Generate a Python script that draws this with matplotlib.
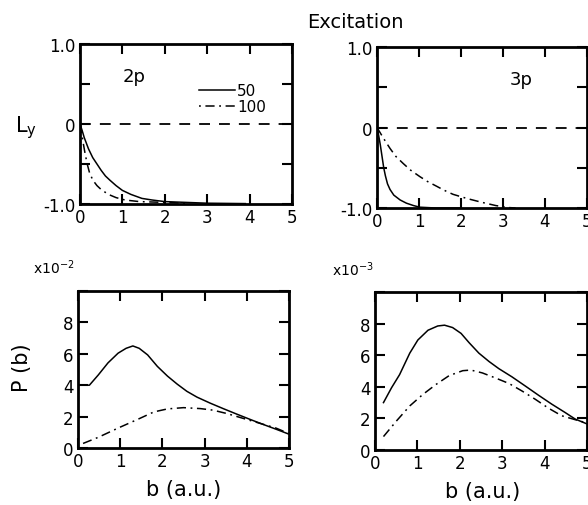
import matplotlib
matplotlib.use("Agg")
import matplotlib.pyplot as plt

plt.rcParams['font.family'] = ['DejaVu Sans']
plt.rcParams['mathtext.fontset'] = 'dejavusans'

# ---- data: L_y (top panels) ----
b2p_ly_50 = [0.0, 0.05, 0.1, 0.2, 0.3, 0.4, 0.5, 0.6, 0.7, 0.85, 1.0, 1.2, 1.46, 1.7, 2.0, 2.5, 3.0, 3.9]
ly2p_50 = [0.0, -0.08, -0.17, -0.31, -0.42, -0.5, -0.58, -0.65, -0.7, -0.77, -0.83, -0.88, -0.93, -0.95, -0.97, -0.98, -0.99, -0.995]
b2p_ly_100 = [0.0, 0.04, 0.08, 0.12, 0.17, 0.22, 0.3, 0.4, 0.5, 0.67, 0.85, 1.06, 1.4, 2.0, 2.5]
ly2p_100 = [0.0, -0.12, -0.25, -0.37, -0.5, -0.6, -0.7, -0.77, -0.82, -0.88, -0.92, -0.95, -0.97, -0.98, -0.99]

b3p_ly_50 = [0.0, 0.04, 0.08, 0.12, 0.16, 0.2, 0.25, 0.31, 0.4, 0.55, 0.7, 0.87, 1.02, 1.4, 2.0]
ly3p_50 = [0.0, -0.1, -0.22, -0.36, -0.5, -0.6, -0.7, -0.77, -0.84, -0.9, -0.94, -0.97, -0.99, -1.0, -1.0]
b3p_ly_100 = [0.0, 0.15, 0.31, 0.45, 0.63, 0.8, 1.02, 1.2, 1.42, 1.6, 1.81, 2.0, 2.2, 2.5, 2.83, 3.15, 3.3]
ly3p_100 = [0.0, -0.13, -0.26, -0.36, -0.45, -0.53, -0.61, -0.67, -0.73, -0.78, -0.83, -0.86, -0.89, -0.93, -0.97, -0.995, -1.0]

# ---- data: P(b) (bottom panels) ----
b2p_p_50 = [0.0, 0.27, 0.48, 0.71, 0.95, 1.14, 1.3, 1.45, 1.65, 1.88, 2.12, 2.35, 2.58, 2.82,
            3.13, 3.44, 3.76, 4.07, 4.38, 4.69, 5.0]
p2p_50 = [4.0, 4.0, 4.65, 5.42, 6.04, 6.35, 6.5, 6.35, 5.93, 5.2, 4.58, 4.07, 3.61, 3.24,
          2.86, 2.51, 2.16, 1.83, 1.51, 1.2, 0.88]
b2p_p_100 = [0.12, 0.48, 0.95, 1.42, 1.8, 2.12, 2.5, 2.9, 3.2, 3.52, 3.91, 4.3, 4.69, 5.0]
p2p_100 = [0.29, 0.68, 1.27, 1.83, 2.3, 2.49, 2.57, 2.51, 2.41, 2.2, 1.89, 1.58, 1.27, 0.92]

b3p_p_50 = [0.2, 0.39, 0.58, 0.82, 1.01, 1.25, 1.48, 1.64, 1.83, 2.03, 2.22, 2.45, 2.69, 2.92,
            3.23, 3.55, 3.86, 4.17, 4.48, 4.72, 5.0]
p3p_50 = [3.0, 3.94, 4.77, 6.13, 6.96, 7.58, 7.85, 7.9, 7.75, 7.38, 6.79, 6.13, 5.6, 5.15,
          4.63, 4.04, 3.46, 2.9, 2.38, 1.96, 1.65]
b3p_p_100 = [0.2, 0.51, 0.82, 1.13, 1.44, 1.75, 2.07, 2.26, 2.53, 2.84, 3.16, 3.47, 3.78, 4.09,
             4.4, 4.72, 5.0]
p3p_100 = [0.85, 1.85, 2.79, 3.52, 4.15, 4.71, 5.02, 5.06, 4.88, 4.56, 4.21, 3.73, 3.21, 2.65,
           2.17, 1.92, 1.71]

xticks = [0, 1, 2, 3, 4, 5]
xticklabels = ["0", "1", "2", "3", "4", "5"]
ly_ticks = [-1.0, -0.5, 0.0, 0.5, 1.0]
ly_ticklabels = ["-1.0", "", "0", "", "1.0"]
p_ticks = [0, 2, 4, 6, 8, 10]
p_ticklabels = ["0", "2", "4", "6", "8", ""]

W, H = 588, 506
fig = plt.figure(figsize=(W / 100, H / 100), dpi=100)


def rect(l, r, t, b):
    return [l / W, 1 - b / H, (r - l) / W, (b - t) / H]


ax_tl = fig.add_axes(rect(80, 292, 45, 205))
ax_tr = fig.add_axes(rect(377, 587, 48, 209))
ax_bl = fig.add_axes(rect(78, 289, 292, 449))
ax_br = fig.add_axes(rect(375, 587, 293, 451))

dashdot = (0, (6, 3, 1.2, 3))
lw = 1.1

for ax in (ax_tl, ax_tr, ax_bl, ax_br):
    for s in ax.spines.values():
        s.set_linewidth(2.0)
    ax.set_xlim(0, 5)
    ax.set_xticks(xticks)
    ax.set_xticklabels(xticklabels)
    ax.tick_params(direction='in', top=True, right=True, length=7, width=1.5,
                   labelsize=12, pad=3)

for ax in (ax_tl, ax_tr):
    ax.set_ylim(-1, 1)
    ax.set_yticks(ly_ticks)
    ax.set_yticklabels(ly_ticklabels)
    ax.axhline(0, color='black', lw=1.3, linestyle=(0, (6, 5)))

for ax in (ax_bl, ax_br):
    ax.set_ylim(0, 10)
    ax.set_yticks(p_ticks)
    ax.set_yticklabels(p_ticklabels)

ax_tl.plot(b2p_ly_50, ly2p_50, color='black', lw=lw)
ax_tl.plot(b2p_ly_100, ly2p_100, color='black', lw=lw, linestyle=dashdot)
ax_tr.plot(b3p_ly_50, ly3p_50, color='black', lw=lw)
ax_tr.plot(b3p_ly_100, ly3p_100, color='black', lw=lw, linestyle=dashdot)

ax_bl.plot(b2p_p_50, p2p_50, color='black', lw=lw)
ax_bl.plot(b2p_p_100, p2p_100, color='black', lw=lw, linestyle=dashdot)
ax_br.plot(b3p_p_50, p3p_50, color='black', lw=lw)
ax_br.plot(b3p_p_100, p3p_100, color='black', lw=lw, linestyle=dashdot)

# panel labels
ax_tl.text(1.0, 0.6, "2p", fontsize=13, va='center', ha='left')
ax_tr.text(3.15, 0.6, "3p", fontsize=13, va='center', ha='left')

# legend drawn by hand in data coords
ax_tl.plot([2.8, 3.65], [0.42, 0.42], color='black', lw=lw)
ax_tl.text(3.7, 0.42, "50", fontsize=11, va='center', ha='left')
ax_tl.plot([2.8, 3.65], [0.22, 0.22], color='black', lw=lw, linestyle=(0, (1.2, 3, 6, 3)))
ax_tl.text(3.7, 0.22, "100", fontsize=11, va='center', ha='left')

# figure texts
fig.text(355 / W, 1 - 22 / H, "Excitation", fontsize=14, ha='center', va='center')
fig.text(26 / W, 1 - 128 / H, r"L$_{\rm y}$", fontsize=15, ha='center', va='center')
fig.text(22 / W, 1 - 368 / H, "P (b)", fontsize=15, ha='center', va='center', rotation=90)
fig.text(184 / W, 1 - 490 / H, "b (a.u.)", fontsize=15, ha='center', va='center')
fig.text(483 / W, 1 - 492 / H, "b (a.u.)", fontsize=15, ha='center', va='center')
fig.text(33 / W, 1 - 268 / H, r"x10$^{-2}$", fontsize=10, ha='left', va='center')
fig.text(332 / W, 1 - 270 / H, r"x10$^{-3}$", fontsize=10, ha='left', va='center')

fig.savefig("out.png", dpi=100)
